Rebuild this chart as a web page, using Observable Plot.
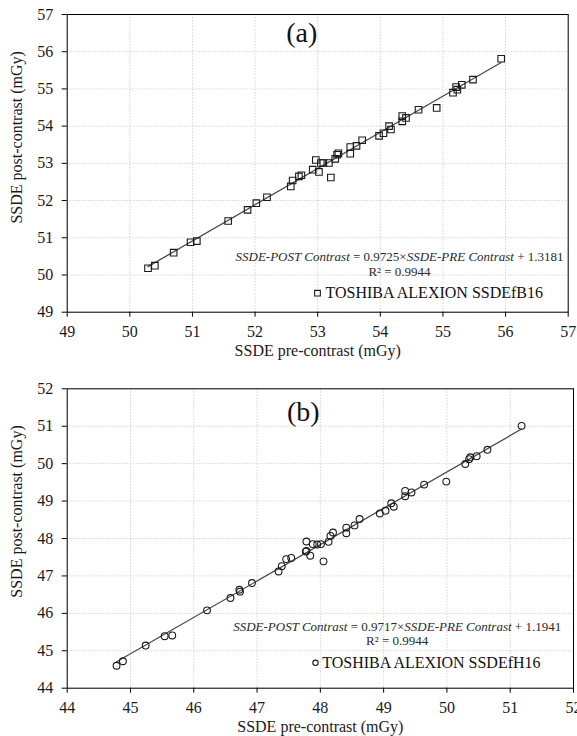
<!DOCTYPE html>
<html><head><meta charset="utf-8">
<script src="https://cdn.jsdelivr.net/npm/d3@7"></script>
<script src="https://cdn.jsdelivr.net/npm/@observablehq/plot@0.6"></script>
<style>
html,body{margin:0;padding:0;background:#fff;}
#chart{width:577px;}
#chart svg{display:block;font-family:"Liberation Serif","Times New Roman",serif !important;}
#chart svg text{font-family:"Liberation Serif","Times New Roman",serif !important;}
</style></head><body><div id="chart"></div>
<script>
// Panel (a): TOSHIBA ALEXION SSDEfB16
const preA  = [50.29,50.40,50.70,50.97,51.07,51.57,51.88,52.02,52.19,52.57,52.60,52.70,52.74,52.92,52.97,53.02,53.05,53.09,53.18,53.21,53.28,53.31,53.33,53.52,53.52,53.62,53.71,53.98,54.05,54.14,54.17,54.35,54.35,54.41,54.61,54.90,55.16,55.21,55.23,55.30,55.48,55.93];
const postA = [50.18,50.25,50.60,50.88,50.91,51.45,51.75,51.93,52.09,52.38,52.54,52.65,52.68,52.83,53.09,52.77,53.01,53.01,53.01,52.62,53.12,53.23,53.27,53.26,53.44,53.47,53.62,53.74,53.81,54.00,53.91,54.13,54.27,54.22,54.44,54.49,54.90,55.05,54.98,55.11,55.25,55.81];
const ticksA = [49,50,51,52,53,54,55,56,57];
const fitA = {slope: 0.9725, intercept: 1.3181, r2: 0.9944};

// Panel (b): TOSHIBA ALEXION SSDEfH16
const preB  = [44.78,44.88,45.24,45.54,45.66,46.21,46.58,46.72,46.73,46.92,47.34,47.39,47.46,47.54,47.77,47.78,47.78,47.84,47.88,47.95,48.01,48.05,48.13,48.16,48.20,48.41,48.41,48.54,48.62,48.94,49.03,49.12,49.16,49.34,49.34,49.44,49.64,49.99,50.29,50.35,50.37,50.47,50.64,51.18];
const postB = [44.60,44.72,45.14,45.39,45.41,46.08,46.41,46.63,46.58,46.81,47.12,47.26,47.45,47.48,47.65,47.67,47.92,47.54,47.85,47.84,47.85,47.39,47.91,48.07,48.16,48.14,48.29,48.35,48.52,48.67,48.74,48.94,48.85,49.13,49.27,49.23,49.44,49.52,49.99,50.12,50.17,50.20,50.37,51.01];
const ticksB = [44,45,46,47,48,49,50,51,52];
const fitB = {slope: 0.9717, intercept: 1.1941, r2: 0.9944};

const xLabel = "SSDE pre-contrast (mGy)";
const yLabel = "SSDE post-contrast (mGy)";
const FONT = "Liberation Serif";

function panel(o) {
  const pts = o.pre.map((x, i) => ({x, y: o.post[i]}));
  const ext = d3.extent(o.pre);
  const fitLine = ext.map(x => ({x, y: o.fit.slope * x + o.fit.intercept}));
  const eqParts = [
    {t: "SSDE-POST Contrast", i: true},
    {t: " = " + o.fit.slope.toFixed(4) + "×", i: false},
    {t: "SSDE-PRE Contrast", i: true},
    {t: " + " + o.fit.intercept.toFixed(4), i: false}
  ];
  const eq = eqParts.map(p => p.t).join("");
  const gridStyle = {stroke: "#d6d4c8", strokeOpacity: 1, strokeDasharray: "1.5,1.5", strokeWidth: 1};
  const T = {fontFamily: FONT, lineAnchor: "middle"};
  const svg = Plot.plot({
    width: 577, height: o.height,
    marginTop: o.mt, marginBottom: o.mb, marginLeft: 66.7, marginRight: o.mr,
    style: {fontFamily: FONT, fontSize: "16px", background: "#fff", color: "#1a1a1a"},
    x: {domain: [o.ticks[0], o.ticks[o.ticks.length - 1]]},
    y: {domain: [o.ticks[0], o.ticks[o.ticks.length - 1]]},
    marks: [
      Plot.gridX(o.ticks, gridStyle),
      Plot.gridY(o.ticks, gridStyle),
      Plot.line(fitLine, {x: "x", y: "y", stroke: "#4a4a4a", strokeWidth: 1.3}),
      Plot.dot(pts, {x: "x", y: "y", symbol: o.symbol, r: o.r, stroke: "#1a1a1a", strokeWidth: 1.1, fill: "none"}),
      Plot.frame({stroke: "#000", strokeWidth: 1}),
      Plot.axisX(o.ticks, {tickSize: 5, tickPadding: 8, label: null, fontSize: 16, fontFamily: FONT, stroke: "#000"}),
      Plot.axisY(o.ticks, {tickSize: 5, tickPadding: 9, label: null, fontSize: 16, fontFamily: FONT, stroke: "#000"}),
      Plot.text([xLabel], {...T, text: d => d, frameAnchor: "bottom", dy: o.xtDy, fontSize: 16, fill: "#1a1a1a"}),
      Plot.text([yLabel], {...T, text: d => d, frameAnchor: "left", textAnchor: "middle", dx: -50, dy: o.ytDy, rotate: -90, fontSize: 16, fill: "#1a1a1a"}),
      Plot.text([o.tag], {...T, text: d => d, frameAnchor: "top", dx: o.tagDx, dy: o.tagDy, fontSize: 28, fill: "#111"}),
      Plot.text([eq], {...T, text: d => d, frameAnchor: "bottom-left", textAnchor: "middle", dx: o.eqDx, dy: o.eqDy, fontSize: 13, fill: "#2a2a2a"}),
      Plot.text(["R² = " + o.fit.r2.toFixed(4)], {...T, text: d => d, frameAnchor: "bottom-left", textAnchor: "middle", dx: o.eqDx, dy: o.r2Dy, fontSize: 13, fill: "#2a2a2a"}),
      Plot.dot([o.legend], {frameAnchor: "bottom-left", dx: o.lgDx, dy: o.lgDy, symbol: o.symbol, r: o.lr, stroke: "#1a1a1a", strokeWidth: 1.1, fill: "none"}),
      Plot.text([o.legend], {...T, text: d => d, frameAnchor: "bottom-left", dx: o.lgTx, dy: o.lgDy, textAnchor: "start", fontSize: 16, fill: "#111"})
    ]
  });
  d3.select(svg).selectAll("text").filter(function() { return this.textContent === eq; })
    .each(function() {
      const t = d3.select(this);
      t.text(null);
      eqParts.forEach(p => t.append("tspan").attr("font-style", p.i ? "italic" : "normal").text(p.t));
    });
  return svg;
}

const root = document.getElementById("chart");
root.appendChild(panel({
  pre: preA, post: postA, ticks: ticksA, fit: fitA, symbol: "square", r: 3.7, lr: 3.2,
  height: 370, mt: 14, mb: 58.3, mr: 9.3,
  xtDy: 38.3, ytDy: -26, tag: "(a)", tagDx: -16, tagDy: 18.3,
  eqDx: 332.3, eqDy: -55, r2Dy: -40, lgDx: 250.3, lgTx: 258.3, lgDy: -19,
  legend: "TOSHIBA ALEXION SSDEfB16"
}));
root.appendChild(panel({
  pre: preB, post: postB, ticks: ticksB, fit: fitB, symbol: "circle", r: 3.4, lr: 2.7,
  height: 366, mt: 18.3, mb: 48.3, mr: 4,
  xtDy: 39, ytDy: -27, tag: "(b)", tagDx: -17, tagDy: 23.4,
  eqDx: 330, eqDy: -61, r2Dy: -47, lgDx: 248.3, lgTx: 255, lgDy: -25.4,
  legend: "TOSHIBA ALEXION SSDEfH16"
}));
</script>
</body></html>
